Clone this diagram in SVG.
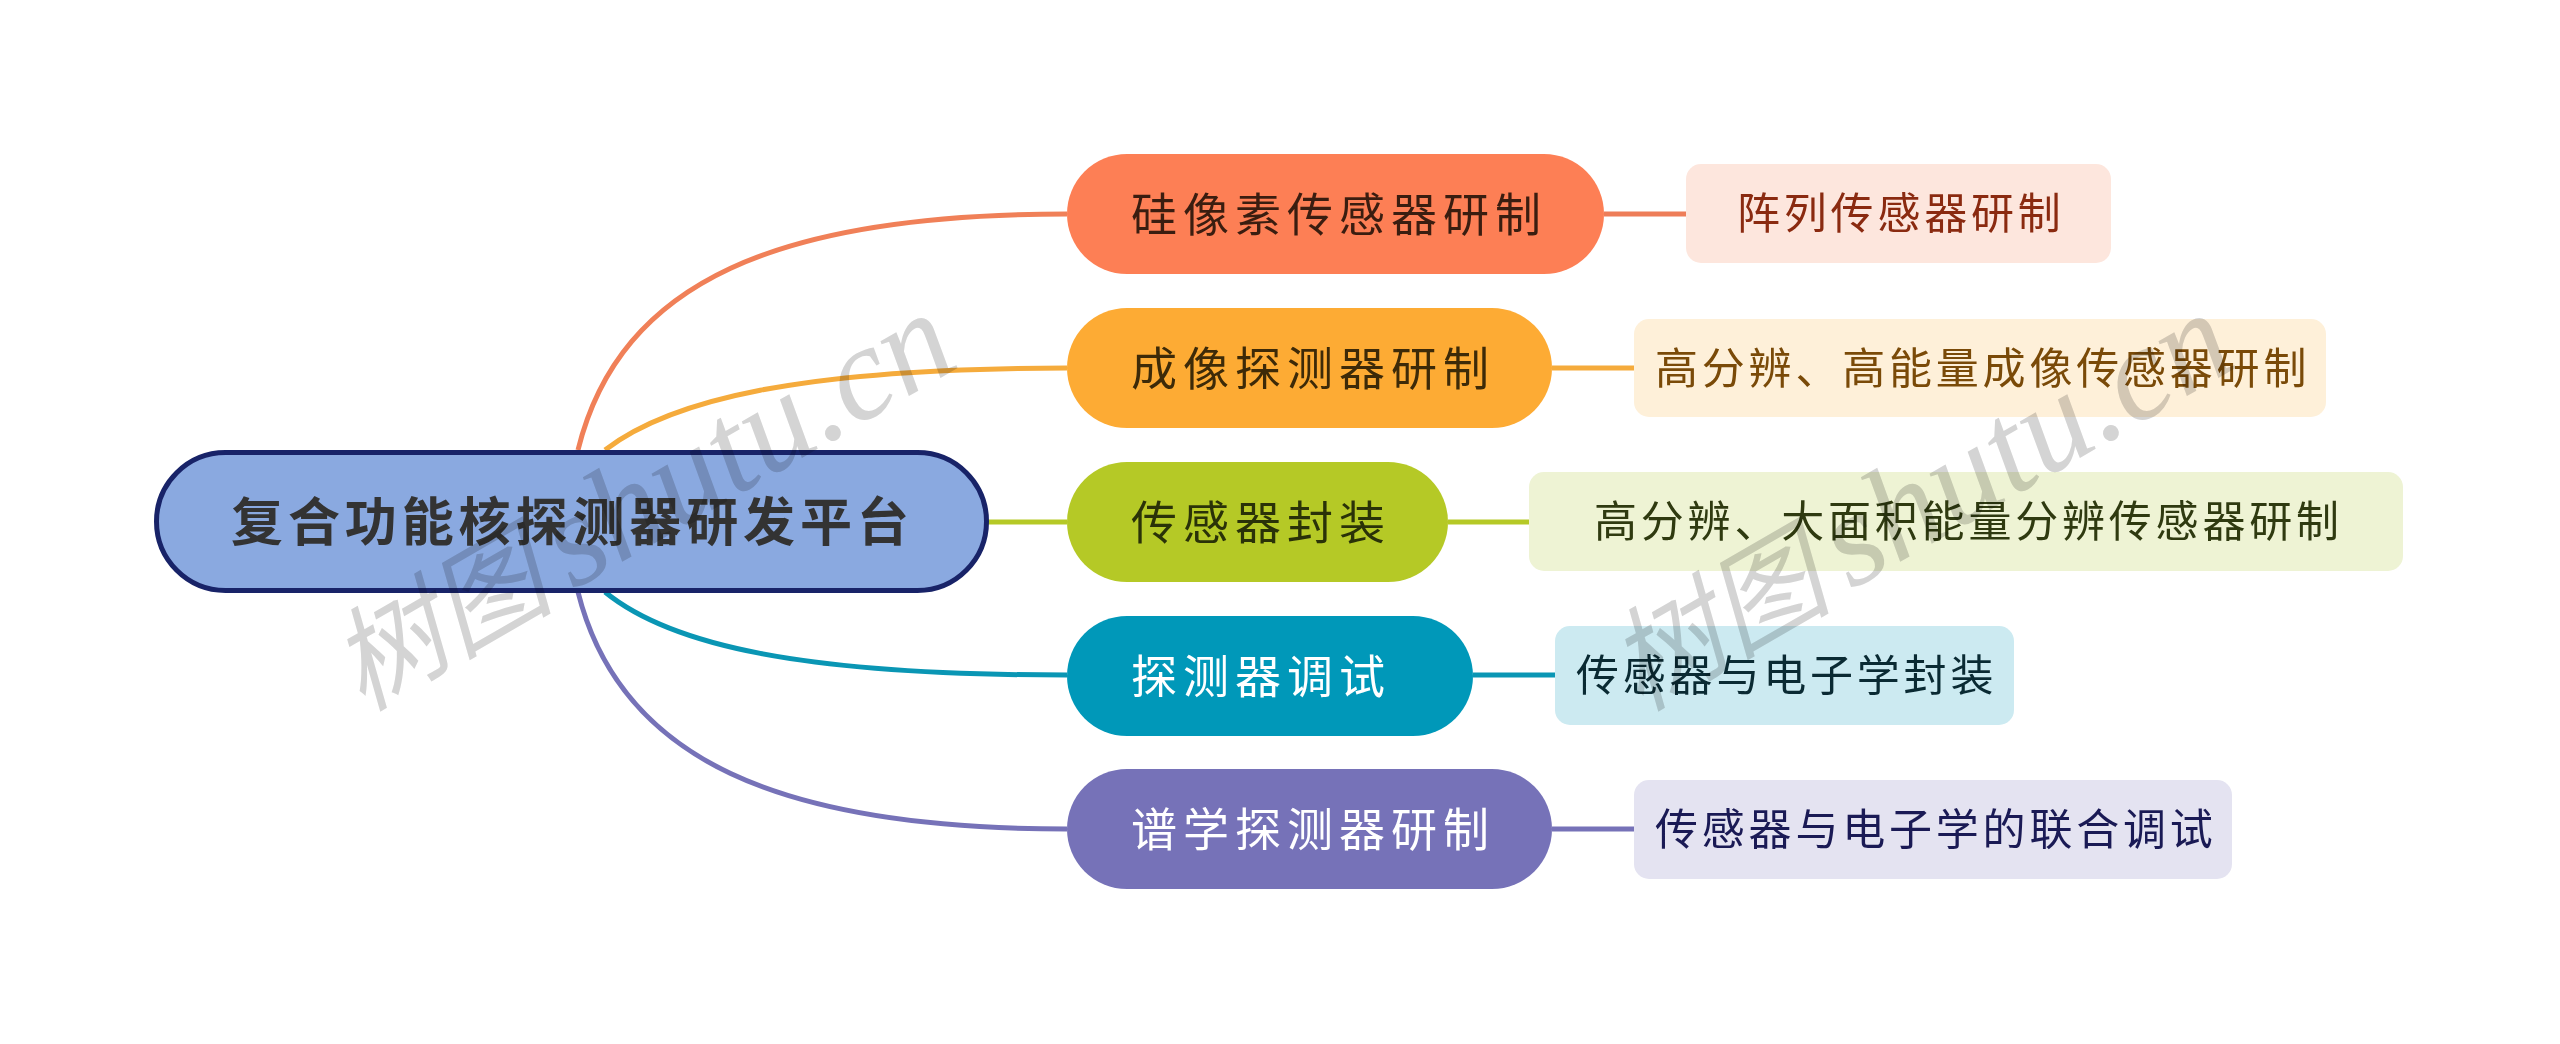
<svg xmlns="http://www.w3.org/2000/svg" width="2560" height="1044" viewBox="0 0 2560 1044">
<style>
text{font-family:"Noto Sans CJK SC","Noto Sans",sans-serif}
.c{fill:none;stroke-width:5}
.n{font-size:46px;letter-spacing:6px}
.s{font-size:43px;letter-spacing:3.800px}
.wm{font-family:"Liberation Serif","Noto Sans CJK SC",serif;font-style:italic;font-size:112px;fill:#d4d4d4;mix-blend-mode:multiply}
.wm .l{font-size:134px}
</style>
<rect width="2560" height="1044" fill="#ffffff"/>
<g id="connectors">
<path class="c" stroke="#f08058" d="M578 450C620 280 780 214 1067 214"/>
<path class="c" stroke="#f5ab3c" d="M605 450C670 400 800 368 1067 368"/>
<path class="c" stroke="#b5c926" d="M988 522H1067"/>
<path class="c" stroke="#0a96b4" d="M605 592C670 645 800 675 1067 675"/>
<path class="c" stroke="#7672b8" d="M578 592C620 760 780 829 1067 829"/>
<path class="c" stroke="#ee7d58" d="M1604 214H1686"/>
<path class="c" stroke="#f5ab3c" d="M1552 368H1634"/>
<path class="c" stroke="#b5c926" d="M1448 522H1529"/>
<path class="c" stroke="#0a96b4" d="M1473 675H1555"/>
<path class="c" stroke="#7672b8" d="M1552 829H1634"/>
</g>
<g id="root"><rect x="156.500" y="452.500" width="830" height="138" rx="69" fill="#8aa9e0" stroke="#182368" stroke-width="5"/><text x="231" y="541" font-size="52" font-weight="700" letter-spacing="4.900" fill="#333333">复合功能核探测器研发平台</text></g>
<g id="n1"><rect x="1067" y="154" width="537" height="120" rx="60" fill="#fd7f55"/><text class="n" x="1131" y="231" fill="#3a1d10">硅像素传感器研制</text></g>
<g id="n2"><rect x="1067" y="308" width="485" height="120" rx="60" fill="#fdab34"/><text class="n" x="1131" y="385" fill="#3d2a08">成像探测器研制</text></g>
<g id="n3"><rect x="1067" y="462" width="381" height="120" rx="60" fill="#b5c926"/><text class="n" x="1131" y="539" fill="#2a3208">传感器封装</text></g>
<g id="n4"><rect x="1067" y="616" width="406" height="120" rx="60" fill="#0098b9"/><text class="n" x="1131" y="693" fill="#ffffff">探测器调试</text></g>
<g id="n5"><rect x="1067" y="769" width="485" height="120" rx="60" fill="#7672b8"/><text class="n" x="1131" y="846" fill="#ffffff">谱学探测器研制</text></g>
<g id="s1"><rect x="1686" y="164" width="425" height="99" rx="15" fill="#fde6dd"/><text class="s" x="1737" y="229" fill="#8a2a10">阵列传感器研制</text></g>
<g id="s2"><rect x="1634" y="319" width="692" height="98" rx="15" fill="#fef0d9"/><text class="s" x="1655" y="384" fill="#7a4a08">高分辨、高能量成像传感器研制</text></g>
<g id="s3"><rect x="1529" y="472" width="874" height="99" rx="15" fill="#eef3d4"/><text class="s" x="1594" y="537" fill="#2f3a10">高分辨、大面积能量分辨传感器研制</text></g>
<g id="s4"><rect x="1555" y="626" width="459" height="99" rx="15" fill="#cceaf1"/><text class="s" x="1576" y="691" fill="#0a2a33">传感器与电子学封装</text></g>
<g id="s5"><rect x="1634" y="780" width="598" height="99" rx="15" fill="#e4e3f1"/><text class="s" x="1655" y="845" fill="#1a1a55">传感器与电子学的联合调试</text></g>
<g id="watermark">
<text class="wm" transform="translate(362 712) rotate(-30)">树图<tspan class="l" dx="6"> </tspan><tspan class="l" dx="-20">shutu.cn</tspan></text>
<text class="wm" transform="translate(1640 712) rotate(-30)">树图<tspan class="l" dx="6"> </tspan><tspan class="l" dx="-20">shutu.cn</tspan></text>
</g>
</svg>
